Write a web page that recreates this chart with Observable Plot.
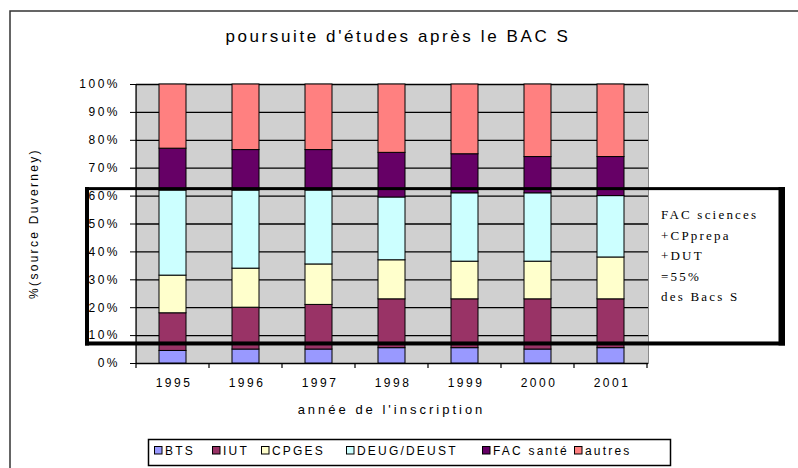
<!DOCTYPE html>
<html><head><meta charset="utf-8">
<script src="https://cdn.jsdelivr.net/npm/d3@7"></script>
<script src="https://cdn.jsdelivr.net/npm/@observablehq/plot@0.6"></script>
<style>
html,body{margin:0;padding:0;background:#fff;}
#chart{position:relative;width:798px;height:468px;overflow:hidden;}
#chart svg{display:block;}
</style></head><body><div id="chart"></div>
<script>
// ---- data ----
const years = ["1995","1996","1997","1998","1999","2000","2001"];
const categories = ["BTS","IUT","CPGES","DEUG/DEUST","FAC santé","autres"];
const colors = ["#9999FF","#993366","#FFFFCC","#CCFFFF","#660066","#FF8080"];
const BTS      = [4.5, 5,    5,    5.5,  5.5,  5,    5.5];
const IUT      = [13.5,15,   16,   17.5, 17.5, 18,   17.5];
const CPGES    = [13.5,14,   14.5, 14,   13.5, 13.5, 15];
const DEUG     = [30.5,28,   26.5, 22.5, 24.5, 24.5, 22];
const FACsante = [15,  14.5, 14.5, 16,   14,   13,   14];
const autres   = [23,  23.5, 23.5, 24.5, 25,   26,   26];
const yTicks = [0,10,20,30,40,50,60,70,80,90,100];
const titleText = "poursuite d'études après le BAC S";
const yLabel = "%(source Duverney)";
const xLabel = "année de l'inscription";
const noteLines = ["FAC sciences","+CPprepa","+DUT","=55%","des Bacs S"];
const boxRange = [7, 62.5]; // annotation box, in % of the y scale

const series = [BTS, IUT, CPGES, DEUG, FACsante, autres];
const data = [];
categories.forEach((c, i) => years.forEach((yr, j) => data.push({year: yr, cat: c, value: series[i][j]})));

const W = 798, H = 468, mL = 136, mR = 150, mT = 84, mB = 105;
const font = "'Liberation Sans', Arial, sans-serif";

const plot = Plot.plot({
  width: W, height: H,
  marginLeft: mL, marginRight: mR, marginTop: mT, marginBottom: mB,
  style: {fontFamily: font, fontSize: "12px", background: "transparent", color: "#000", overflow: "visible"},
  x: {domain: years, paddingInner: 0.63, paddingOuter: 0.315, label: null},
  y: {domain: [0, 100], label: null},
  color: {domain: categories, range: colors},
  marks: [
    Plot.frame({fill: "#d0d0d0", stroke: "#8a8a8a"}),
    Plot.gridY(yTicks, {stroke: "#000", strokeOpacity: 1, strokeWidth: 1.3}),
    Plot.barY(data, {x: "year", y: "value", fill: "cat", stroke: "#000", strokeWidth: 1, inset: 0}),
    Plot.ruleY([0], {stroke: "#000", strokeWidth: 1.2}),
    Plot.axisY(yTicks, {tickSize: 6, tickPadding: 10.5, tickFormat: d => d + "%", label: null, fontSize: 12}),
    Plot.axisX({tickSize: 0, tickPadding: 15, label: null, fontSize: 12, dx: 1})
  ]
});

document.getElementById("chart").appendChild(plot);
const svg = d3.select(plot);
svg.selectAll("g[aria-label='y-axis tick label'] text, g[aria-label='x-axis tick label'] text")
  .style("letter-spacing", "2.5px");
svg.selectAll("g[aria-label='y-axis tick'] path").attr("stroke", "#000");

const xs = plot.scale("x"), ys = plot.scale("y");
const cs = plot.scale("color");
const step = xs.apply(years[1]) - xs.apply(years[0]);
const bw = xs.bandwidth;
const x0 = xs.apply(years[0]) - (step - bw) / 2;
const yTop = ys.apply(100), yBot = ys.apply(0);

// left axis line
svg.append("line").attr("x1", x0).attr("x2", x0).attr("y1", yTop).attr("y2", yBot)
  .attr("stroke", "#000").attr("stroke-width", 1.2);
// category boundary ticks
for (let i = 0; i <= years.length; i++) {
  const x = x0 + i * step;
  svg.append("line").attr("x1", x).attr("x2", x).attr("y1", yBot).attr("y2", yBot + 5)
    .attr("stroke", "#000").attr("stroke-width", 1.2);
}

// outer chart border
svg.append("rect").attr("x", 10).attr("y", 11).attr("width", 820).attr("height", 480)
  .attr("fill", "none").attr("stroke", "#333").attr("stroke-width", 1.5);

// title
svg.append("text").attr("x", 398).attr("y", 42).attr("text-anchor", "middle")
  .style("font-family", font).style("font-size", "17px").style("letter-spacing", "2.6px")
  .text(titleText);

// y axis title
svg.append("text").attr("transform", `translate(38,${(yTop + yBot) / 2}) rotate(-90)`)
  .attr("text-anchor", "middle")
  .style("font-family", font).style("font-size", "12px").style("letter-spacing", "2.3px")
  .text(yLabel);

// x axis title
svg.append("text").attr("x", (x0 + x0 + step * years.length) / 2).attr("y", 414).attr("text-anchor", "middle")
  .style("font-family", font).style("font-size", "13px").style("letter-spacing", "3px")
  .text(xLabel);

// annotation box (over the bars, transparent interior)
const bTop = ys.apply(boxRange[1]), bBot = ys.apply(boxRange[0]);
const bL = 85, bR = 785;
const g = svg.append("g").attr("fill", "#000");
g.append("rect").attr("x", bL).attr("y", bTop - 1.5).attr("width", bR - bL).attr("height", 3);
g.append("rect").attr("x", bL).attr("y", bBot - 2).attr("width", bR - bL).attr("height", 4);
g.append("rect").attr("x", bL).attr("y", bTop - 1.5).attr("width", 4).attr("height", bBot - bTop + 3.5);
g.append("rect").attr("x", bR - 6.5).attr("y", bTop - 1.5).attr("width", 6.5).attr("height", bBot - bTop + 3.5);

// annotation text
noteLines.forEach((t, i) => {
  svg.append("text").attr("x", 661).attr("y", 219 + i * 20.5).attr("text-anchor", "start")
    .style("font-family", "'Liberation Serif', 'Times New Roman', serif").style("font-size", "13px")
    .style("letter-spacing", "2.2px").text(t);
});

// legend
const legX = [154, 212, 261, 346, 482, 574];
svg.append("rect").attr("x", 148.5).attr("y", 439.5).attr("width", 522).attr("height", 26)
  .attr("fill", "#fff").attr("stroke", "#000").attr("stroke-width", 1.5);
categories.forEach((c, i) => {
  svg.append("rect").attr("x", legX[i] + 0.5).attr("y", 446.5).attr("width", 7.5).attr("height", 7.5)
    .attr("fill", cs.apply(c)).attr("stroke", "#000").attr("stroke-width", 1);
  svg.append("text").attr("x", legX[i] + 11).attr("y", 454.5).attr("text-anchor", "start")
    .style("font-family", font).style("font-size", "12px").style("letter-spacing", "2.2px")
    .text(c);
});
</script>
</body></html>
